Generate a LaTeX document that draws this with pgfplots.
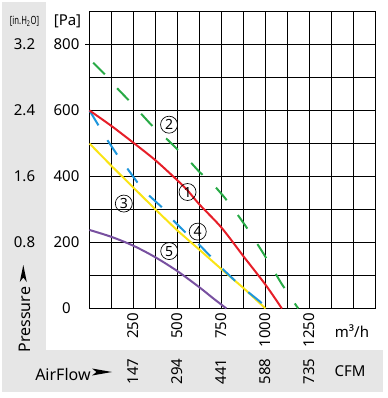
\documentclass[border=0pt]{standalone}
\usepackage{fontspec}
\setmainfont{Noto Sans}
\usepackage{graphicx}
\usepackage{pgfplots}
\pgfplotsset{compat=1.18}
\definecolor{cRed}{RGB}{230,30,40}
\definecolor{cGreen}{RGB}{40,170,70}
\definecolor{cBlue}{RGB}{30,150,220}
\definecolor{cYellow}{RGB}{250,228,20}
\definecolor{cPurple}{RGB}{120,80,160}
\definecolor{gbg}{RGB}{230,230,230}
\newcommand\fnum{\fontsize{11.25}{13}\selectfont}
\newcommand\flab{\fontsize{12}{14}\selectfont}
\newcommand\fcirc{\fontsize{10.5}{12}\selectfont}
\begin{document}
\begin{tikzpicture}
\begin{scope}[x=0.75pt,y=-0.75pt]
\path[use as bounding box] (0,0) rectangle (387,398);
\fill[gbg] (2,2) rectangle (46,350);
\fill[gbg] (2,350) rectangle (383,392);
\end{scope}
\begin{axis}[
  at={(67.125pt,-231.375pt)}, anchor=south west,
  scale only axis, width=214.5pt, height=222.75pt,
  xmin=0, xmax=1625, ymin=0, ymax=900,
  xtick={0,125,...,1625},
  xticklabels={,,250,,500,,750,,1000,,1250,,,},
  ytick={0,100,...,900},
  yticklabels={0,,200,,400,,600,,800,},
  grid=major,
  major grid style={line width=1pt, black},
  axis line style={line width=1pt, black},
  major tick length=0pt,
  /pgf/number format/assume math mode=true,
  xticklabel style={rotate=90, anchor=east, font=\fnum},
  yticklabel style={anchor=center, xshift=-17.25pt, font=\fnum},
  clip=false,
]
\addplot[cGreen, line width=1.5pt, dash pattern=on 12.4pt off 13.9pt] coordinates {
 (21,745) (86,710) (156,668) (221,632) (290,592) (350,557) (429,519) (496,484)
 (568,447) (624,414) (703,376) (765,338) (830,293) (883,253) (939,208) (990,165)
 (1042,119) (1089,77) (1145,32) (1186,0)};
\addplot[cPurple, line width=1.5pt, smooth] coordinates {
 (0,238) (125,217) (250,190) (375,155) (500,113) (625,64) (700,32) (778,0)};
\addplot[cYellow, line width=1.5pt] coordinates {
 (0,500) (125,432) (250,366) (375,300) (500,236) (625,178) (750,119) (875,62) (1000,0)};
\addplot[cBlue, line width=1.5pt, dash pattern=on 13pt off 13pt] coordinates {
 (0,600) (52,554) (103,509) (156,467) (215,424) (271,383) (337,343) (409,308)
 (474,268) (540,233) (615,198) (684,160) (752,122) (821,87) (896,52) (971,20) (1000,5)};
\addplot[cRed, line width=1.5pt, smooth] coordinates {
 (0,600) (125,553) (250,502) (375,449) (500,388) (557,358) (625,315) (750,245)
 (875,158) (1000,72) (1093,0)};
\node[circle, draw, line width=0.5pt, minimum size=12.75pt, inner sep=0pt, font=\fcirc] at (axis cs:557,353) {1};
\node[circle, draw, line width=0.5pt, minimum size=12.75pt, inner sep=0pt, font=\fcirc] at (axis cs:452,557) {2};
\node[circle, draw, line width=0.5pt, minimum size=12.75pt, inner sep=0pt, font=\fcirc] at (axis cs:195,318) {3};
\node[circle, draw, line width=0.5pt, minimum size=12.75pt, inner sep=0pt, font=\fcirc] at (axis cs:615,233) {4};
\node[circle, draw, line width=0.5pt, minimum size=12.75pt, inner sep=0pt, font=\fcirc] at (axis cs:453,174) {5};
\end{axis}
\begin{scope}[x=0.75pt,y=-0.75pt]
\draw[line width=1pt] (85,44.5) -- (89.5,44.5);
\node[font=\fnum] at (67.5,21) {[Pa]};
\node[font=\fontsize{8.5}{10}\selectfont] at (24.5,21) {\scalebox{0.68}[1]{[in.H\textsubscript{2}O]}};
\node[font=\fnum] at (24.5,44.5) {3.2};
\node[font=\fnum] at (24.5,110.5) {2.4};
\node[font=\fnum] at (24.5,176.5) {1.6};
\node[font=\fnum] at (24.5,242.5) {0.8};
\node[font=\flab, rotate=90, anchor=base west, inner sep=0pt] at (30,352.7) {Pressure};
\fill (23.3,265) -- (19.8,282) -- (23.3,277.5) -- (26.8,282) -- cycle;
\node[font=\flab, anchor=base west, inner sep=0pt] at (35,380) {AirFlow};
\fill (112,372) -- (92,368.5) -- (96.5,372) -- (92,375.5) -- cycle;
\node[font=\fnum, rotate=90] at (133.5,371.5) {147};
\node[font=\fnum, rotate=90] at (177.5,371.5) {294};
\node[font=\fnum, rotate=90] at (221.5,371.5) {441};
\node[font=\fnum, rotate=90] at (265.5,371.5) {588};
\node[font=\fnum, rotate=90] at (309.5,371.5) {735};
\node[font=\fnum] at (352,331) {m³/h};
\node[font=\fnum] at (350,371.5) {CFM};
\end{scope}
\end{tikzpicture}
\end{document}
